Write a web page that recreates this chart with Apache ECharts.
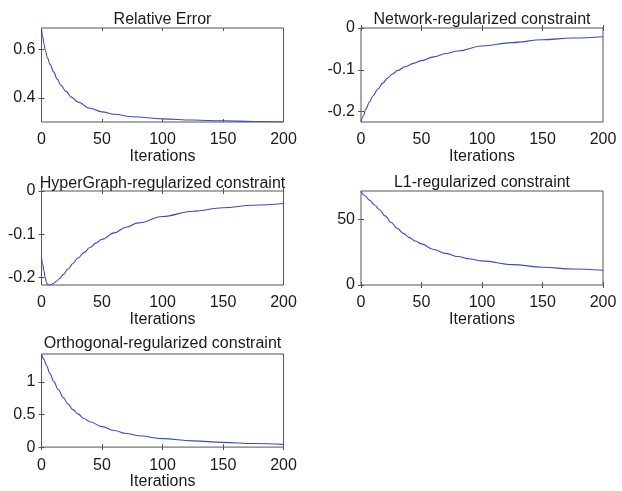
<!DOCTYPE html>
<html>
<head>
<meta charset="utf-8">
<script src="https://cdn.jsdelivr.net/npm/echarts@6/dist/echarts.min.js"></script>
<style>
html,body{margin:0;padding:0;background:#fff;}
#chart{width:622px;height:491px;}
</style>
</head>
<body>
<div id="chart"></div>
<script>
// ---- Data ----
const titles = ["Relative Error", "Network-regularized constraint", "HyperGraph-regularized constraint", "L1-regularized constraint", "Orthogonal-regularized constraint"];
const xTicks = [0, 50, 100, 150, 200];

const iterRel = [0,1,2,3,5,7,10,13,16,20,25,30,40,50,60,75,100,125,150,175,200];
const relErr  = [0.69,0.655,0.625,0.60,0.565,0.54,0.508,0.478,0.453,0.428,0.402,0.383,0.357,0.342,0.332,0.322,0.313,0.308,0.305,0.302,0.300];

const iterNet = [0,2,4,7,10,14,18,22,26,30,37,44,50,60,70,80,100,125,150,175,200];
const netReg  = [-0.225,-0.21,-0.194,-0.177,-0.162,-0.146,-0.132,-0.12,-0.11,-0.102,-0.092,-0.084,-0.078,-0.069,-0.061,-0.055,-0.043,-0.035,-0.028,-0.024,-0.021];

const iterHyp = [0,1,2,3,4,5,6,8,10,12,15,18,22,26,30,35,40,45,50,60,70,80,100,125,150,175,200];
const hypReg  = [-0.155,-0.170,-0.185,-0.200,-0.211,-0.217,-0.218,-0.217,-0.214,-0.210,-0.203,-0.194,-0.181,-0.168,-0.156,-0.143,-0.131,-0.121,-0.112,-0.097,-0.084,-0.074,-0.059,-0.047,-0.039,-0.033,-0.029];

const iterL1 = [0,3,7,11,15,20,25,30,35,40,45,50,60,70,80,90,100,125,150,175,200];
const l1Reg  = [71.4,68,64.5,61,57.4,52.5,47.5,43,39.2,36,33.4,31.2,27,24,21.6,19.8,18.3,15.5,13.5,12.2,11.2];

const iterOrt = [0,2,4,7,10,14,18,22,26,30,35,40,50,60,70,80,100,125,150,175,200];
const ortReg  = [1.43,1.35,1.26,1.13,1.01,0.88,0.76,0.66,0.575,0.51,0.44,0.39,0.315,0.255,0.21,0.175,0.13,0.095,0.072,0.055,0.042];

const yTicks = [[0.4,0.6],[-0.2,-0.1,0],[-0.2,-0.1,0],[0,50],[0,0.5,1]];
const yRanges = [[0.3,0.69],[-0.225,0],[-0.218,0],[0,71.4],[0,1.43]];
const seriesX = [iterRel, iterNet, iterHyp, iterL1, iterOrt];
const seriesY = [relErr, netReg, hypReg, l1Reg, ortReg];

// ---- Layout ----
const boxes = [
  {left:41.5, top:28,  width:242, height:94},
  {left:361,  top:28,  width:242, height:94},
  {left:41.5, top:191, width:242, height:94},
  {left:361,  top:191, width:242, height:94},
  {left:41.5, top:354, width:242, height:94}
];
const titleTops = [12, 12, 176, 175, 336];
const FONT = 'Liberation Sans, Arial, sans-serif';
const AX = '#555555';
const LINE = '#3a4ac8';

const grid = [], xAxis = [], yAxis = [], series = [], title = [];
boxes.forEach((b, i) => {
  grid.push({left:b.left, top:b.top, width:b.width, height:b.height, show:true, borderColor:AX, borderWidth:1, backgroundColor:'#fff', containLabel:false});
  title.push({text:titles[i], left:b.left + b.width/2, top:titleTops[i], textAlign:'center', padding:0,
    textStyle:{fontFamily:FONT, fontSize:16, fontWeight:'normal', color:'#1a1a1a'}});
  const tickStyle = {show:true, inside:true, length:3, lineStyle:{color:AX}};
  // bottom x
  xAxis.push({type:'value', gridIndex:i, min:0, max:200, position:'bottom',
    axisLine:{show:false}, splitLine:{show:false},
    axisTick:Object.assign({customValues:xTicks}, tickStyle),
    axisLabel:{customValues:xTicks, margin:10, fontFamily:FONT, fontSize:16, color:'#1a1a1a'},
    name:'Iterations', nameLocation:'middle', nameGap:20,
    nameTextStyle:{fontFamily:FONT, fontSize:16, color:'#1a1a1a', verticalAlign:'top'}});
  // top x (ticks only)
  xAxis.push({type:'value', gridIndex:i, min:0, max:200, position:'top',
    axisLine:{show:false}, splitLine:{show:false},
    axisTick:Object.assign({customValues:xTicks}, tickStyle),
    axisLabel:{show:false}});
  // left y
  yAxis.push({type:'value', gridIndex:i, min:yRanges[i][0], max:yRanges[i][1], position:'left',
    axisLine:{show:false}, splitLine:{show:false},
    axisTick:Object.assign({customValues:yTicks[i]}, tickStyle),
    axisLabel:{customValues:yTicks[i], margin:6, fontFamily:FONT, fontSize:16, color:'#1a1a1a'}});
  // right y (ticks only)
  yAxis.push({type:'value', gridIndex:i, min:yRanges[i][0], max:yRanges[i][1], position:'right',
    axisLine:{show:false}, splitLine:{show:false},
    axisTick:Object.assign({customValues:yTicks[i]}, tickStyle),
    axisLabel:{show:false}});
  series.push({type:'line', xAxisIndex:2*i, yAxisIndex:2*i, showSymbol:false, symbol:'none',
    smooth:0.4, smoothMonotone:'x', clip:true,
    lineStyle:{color:LINE, width:1.1},
    data: seriesX[i].map((x, k) => [x, seriesY[i][k]])});
});

const chart = echarts.init(document.getElementById('chart'), null, {renderer:'canvas'});
chart.setOption({animation:false, backgroundColor:'#fff', title, grid, xAxis, yAxis, series});
</script>
</body>
</html>
